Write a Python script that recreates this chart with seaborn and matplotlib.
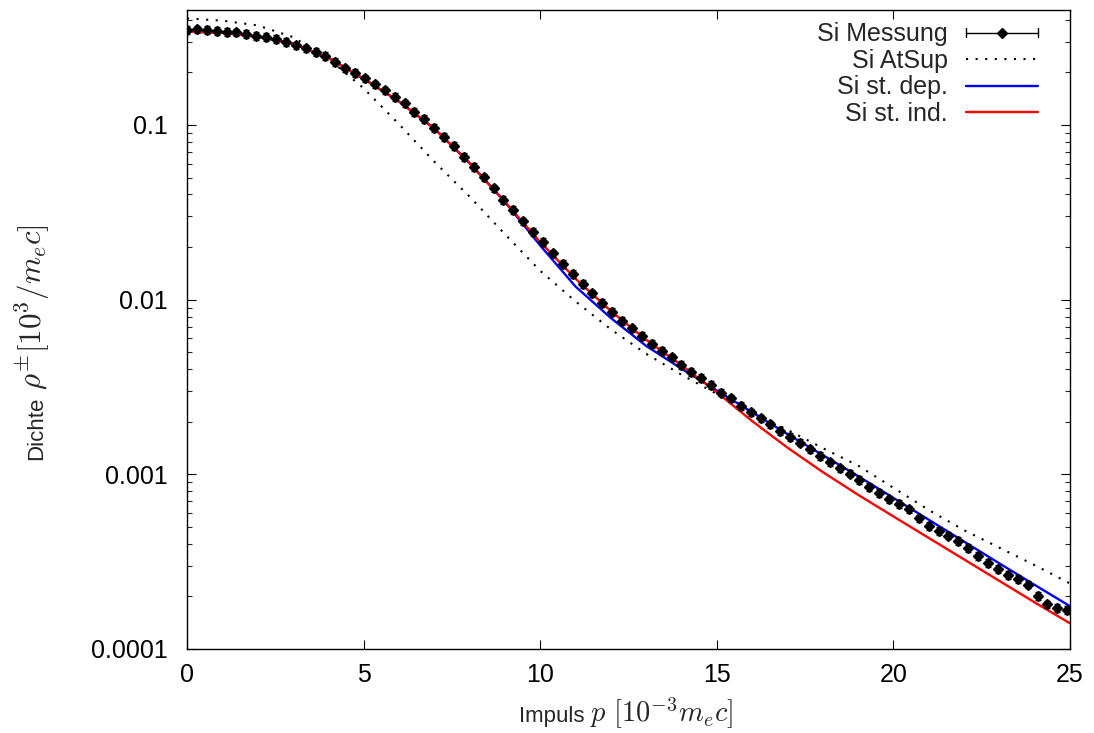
import numpy as np
import pandas as pd
import matplotlib
matplotlib.use("Agg")
import matplotlib.pyplot as plt
import seaborn as sns
from matplotlib.lines import Line2D
from matplotlib.legend_handler import HandlerBase
from matplotlib.container import ErrorbarContainer
from matplotlib.ticker import FixedLocator, FixedFormatter, LogLocator, NullFormatter

# ---------------- data ----------------
labels = ["Si Messung", "Si AtSup", "Si st. dep.", "Si st. ind."]

# measured points (momentum step 0.28)
p_meas = np.arange(90) * 0.28
rho_meas = [
    0.349, 0.352, 0.349, 0.346, 0.341, 0.339, 0.331, 0.324, 0.320, 0.310,
    0.299, 0.286, 0.274, 0.262, 0.249, 0.229, 0.211, 0.199, 0.185, 0.171,
    0.158, 0.145, 0.133, 0.119, 0.108, 0.0964, 0.0855, 0.0757, 0.0658, 0.0577,
    0.0501, 0.0434, 0.0373, 0.0326, 0.0281, 0.0245, 0.0214, 0.0184, 0.0160, 0.0140,
    0.0123, 0.01086, 0.00959, 0.00849, 0.00757, 0.00685, 0.00619, 0.00557, 0.00510, 0.00468,
    0.00423, 0.00386, 0.00355, 0.00324, 0.00294, 0.00272, 0.00247, 0.00226, 0.00209, 0.00193,
    0.00177, 0.00164, 0.00152, 0.00139, 0.00127, 0.00117, 0.00108, 0.00101, 0.000927, 0.000849,
    0.000785, 0.000719, 0.000676, 0.000631, 0.000560, 0.000506, 0.000475, 0.000446, 0.000415, 0.000380,
    0.000342, 0.000312, 0.000287, 0.000265, 0.000251, 0.000234, 0.000201, 0.000180, 0.000172, 0.000167,
]
rel_err = 0.05

# theory curves, sampled at integer momenta 0..25 (log10 of density)
p_curve = list(range(26))
log_atsup = [-0.390, -0.403, -0.430, -0.497, -0.62, -0.79, -0.995, -1.21, -1.41, -1.625,
             -1.835, -2.01, -2.17, -2.31, -2.43, -2.54, -2.645, -2.745, -2.85, -2.95,
             -3.077, -3.204, -3.32, -3.42, -3.52, -3.625]
log_dep = [-0.465, -0.473, -0.495, -0.535, -0.615, -0.735, -0.865, -1.02, -1.218, -1.44,
           -1.69, -1.925, -2.105, -2.265, -2.395, -2.52, -2.645, -2.77, -2.89, -3.01,
           -3.135, -3.26, -3.385, -3.51, -3.633, -3.755]
log_ind = [-0.465, -0.473, -0.495, -0.535, -0.615, -0.735, -0.865, -1.02, -1.218, -1.44,
           -1.67, -1.88, -2.065, -2.23, -2.375, -2.53, -2.695, -2.847, -2.987, -3.117,
           -3.241, -3.364, -3.487, -3.61, -3.733, -3.853]

x_ticks = [0, 5, 10, 15, 20, 25]
y_ticks = [0.0001, 0.001, 0.01, 0.1]
y_ticklabels = ["0.0001", "0.001", "0.01", "0.1"]

# ---------------- style ----------------
sns.set_theme(style="ticks")
plt.rcParams["font.family"] = ["Liberation Sans", "DejaVu Sans"]
plt.rcParams["mathtext.fontset"] = "cm"
FS = 18
W, H = 1094, 733

fig = plt.figure(figsize=(W / 100, H / 100), dpi=100)
ax = fig.add_axes([187 / W, 84 / H, 883 / W, 639 / H])

curves = pd.DataFrame({
    "p": p_curve * 3,
    "rho": list(10 ** np.array(log_atsup)) + list(10 ** np.array(log_dep)) + list(10 ** np.array(log_ind)),
    "series": [labels[1]] * 26 + [labels[2]] * 26 + [labels[3]] * 26,
})

sns.lineplot(data=curves[curves.series == labels[1]], x="p", y="rho", ax=ax,
             color="black", lw=1.5, legend=False, zorder=2)
ax.lines[-1].set_dashes((1, 3.6))
sns.lineplot(data=curves[curves.series == labels[2]], x="p", y="rho", ax=ax,
             color="#0000ff", lw=1.7, legend=False, zorder=3)
sns.lineplot(data=curves[curves.series == labels[3]], x="p", y="rho", ax=ax,
             color="#ff0000", lw=1.7, legend=False, zorder=4)

rho_arr = np.array(rho_meas)
eb = ax.errorbar(p_meas, rho_arr, yerr=rel_err * rho_arr, fmt="D", color="black",
                 markersize=5.5, elinewidth=1, capsize=2, capthick=1, zorder=5)

ax.set_yscale("log")
ax.set_xlim(0, 25)
ax.set_ylim(1e-4, 0.455)

ax.xaxis.set_major_locator(FixedLocator(x_ticks))
ax.yaxis.set_major_locator(FixedLocator(y_ticks))
ax.yaxis.set_major_formatter(FixedFormatter(y_ticklabels))
ax.yaxis.set_minor_locator(LogLocator(base=10, subs=np.arange(2, 10)))
ax.yaxis.set_minor_formatter(NullFormatter())

ax.tick_params(axis="both", which="major", direction="in", length=6.5, width=0.8,
               top=True, right=True, labelsize=FS, colors="black")
ax.tick_params(axis="y", which="major", pad=14)
ax.tick_params(axis="x", which="major", pad=10)
ax.tick_params(axis="y", which="minor", direction="in", length=3.3, width=0.8,
               left=True, right=True)
ax.tick_params(axis="x", which="minor", bottom=False, top=False)
for s in ax.spines.values():
    s.set_visible(True)
    s.set_linewidth(1.0)
    s.set_color("black")
ax.set_xlabel("")
ax.set_ylabel("")


class HandlerHErr(HandlerBase):
    def create_artists(self, legend, orig_handle, xdescent, ydescent, width, height, fontsize, trans):
        y = height / 2 - ydescent
        x0 = -xdescent
        x1 = x0 + width
        line = Line2D([x0, x1], [y, y], color="black", lw=1)
        caps = Line2D([x0, x0, np.nan, x1, x1], [y - 3, y + 3, np.nan, y - 3, y + 3], color="black", lw=1)
        mk = Line2D([(x0 + x1) / 2], [y], marker="D", color="black", markersize=5.5, ls="none")
        for a in (line, caps, mk):
            a.set_transform(trans)
        return [line, caps, mk]


h_dot_leg = Line2D([], [], color="black", lw=1.5, dashes=(1, 3.6))
h_dep_leg = Line2D([], [], color="#0000ff", lw=1.7)
h_ind_leg = Line2D([], [], color="#ff0000", lw=1.7)
leg = ax.legend([eb, h_dot_leg, h_dep_leg, h_ind_leg], labels,
                handler_map={ErrorbarContainer: HandlerHErr()},
                loc="upper right", bbox_to_anchor=(0.9638, 0.9806), frameon=False,
                markerfirst=False, fontsize=FS, handlelength=2.9, handletextpad=0.72,
                labelspacing=0.1, borderpad=0, borderaxespad=0)

# ---------------- axis labels (text part + LaTeX-like math part) ----------------
fig.canvas.draw()
r = fig.canvas.get_renderer()

# x label
tx1 = fig.text(519 / W, 1 - 722 / H, "Impuls", fontsize=16, ha="left", va="baseline")
bx1 = tx1.get_window_extent(r)
tx2 = fig.text((bx1.x1 + 6) / W, 1 - 722 / H, r"$p$ $[10^{-3}m_ec]$", fontsize=20,
               ha="left", va="baseline")
wx = tx2.get_window_extent(r).width
tx2.set_fontsize(20 * 143 / wx)

# y label
ty1 = fig.text(42 / W, 1 - 460 / H, "Dichte", fontsize=16, rotation=90,
               rotation_mode="anchor", ha="left", va="baseline")
by1 = ty1.get_window_extent(r)
ty2 = fig.text(42 / W, (by1.y1 + 7) / H, r"$\rho^{\pm}[10^3/m_ec]$", fontsize=20, rotation=90,
               rotation_mode="anchor", ha="left", va="baseline")
hy = ty2.get_window_extent(r).height
ty2.set_fontsize(20 * 166 / hy)

fig.savefig("out.png", dpi=100)
